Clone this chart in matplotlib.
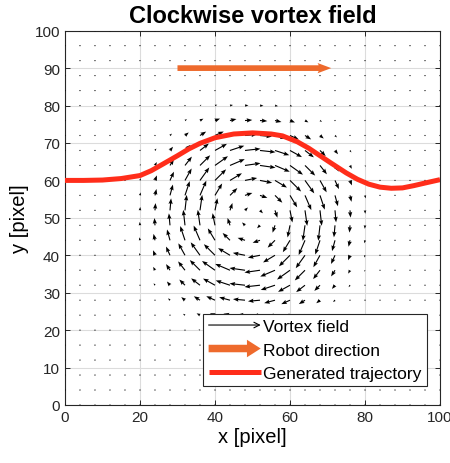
import numpy as np
import matplotlib
matplotlib.use("Agg")
import matplotlib.pyplot as plt
from matplotlib.patches import FancyArrowPatch
from matplotlib.legend_handler import HandlerBase

plt.rcParams["font.family"] = ["Liberation Sans", "DejaVu Sans"]

# sample grid of the vortex field (pixel units)
grid_x = np.arange(0, 101, 4)
grid_y = np.arange(0, 101, 4)
vortex_center = (50.0, 50.0)
ring_radius = 16.0  # radius where rotation is strongest
ring_width = 8.0  # spread of the rotating ring
vortex_peak = 4.3  # longest arrow in pixels

# generated trajectory
traj_x = [0, 5, 10, 15, 20, 23, 26, 30, 33, 36, 40, 45, 50, 55, 58, 62, 65,
          68, 71, 75, 78, 81, 84, 87, 90, 93, 96, 100]
traj_y = [60.0, 60.0, 60.1, 60.5, 61.3, 62.6, 64.3, 66.6, 68.4, 69.9, 71.4,
          72.4, 72.7, 72.4, 71.9, 70.3, 68.6, 66.6, 64.6, 62.0, 60.3, 59.0,
          58.2, 57.9, 58.0, 58.6, 59.3, 60.2]

# robot heading arrow
robot_start = (30, 90)
robot_vec = (41, 0)

red = "#FF2D1A"
orange = "#EE6A2C"


class ArrowHandler(HandlerBase):
    def __init__(self, style, lw, color, scale):
        super().__init__()
        self.style = style
        self.lw = lw
        self.color = color
        self.scale = scale

    def create_artists(self, legend, orig_handle, xdescent, ydescent,
                       width, height, fontsize, trans):
        y = height / 2 - ydescent
        a = FancyArrowPatch((-xdescent, y), (-xdescent + width, y),
                            arrowstyle=self.style, mutation_scale=self.scale,
                            lw=self.lw, color=self.color, transform=trans,
                            shrinkA=0, shrinkB=0)
        return [a]


X, Y = np.meshgrid(grid_x, grid_y)
dx = X - vortex_center[0]
dy = Y - vortex_center[1]
r = np.hypot(dx, dy)
mag = vortex_peak * np.exp(-(r - ring_radius) ** 2 / (2 * ring_width ** 2))
mag[r == 0] = 0
rr = np.where(r == 0, 1, r)
U = mag * dy / rr
V = -mag * dx / rr

fig = plt.figure(figsize=(4.5, 4.64), dpi=100)
ax = fig.add_axes([0.1444, 0.125, 0.8334, 0.8067])

qv = ax.quiver(X, Y, U, V, angles="xy", scale_units="xy", scale=1,
               color="black", width=0.003, headwidth=3.8, headlength=5.0,
               headaxislength=4.4, minlength=1.2, zorder=3)
rb = ax.quiver(robot_start[0], robot_start[1], robot_vec[0], robot_vec[1],
               angles="xy", scale_units="xy", scale=1, color=orange,
               width=0.0152, headwidth=1.8, headlength=2.4,
               headaxislength=2.2, zorder=4)
tr, = ax.plot(traj_x, traj_y, color=red, lw=3.6, solid_capstyle="butt",
              zorder=5)

ax.set_xlim(0, 100)
ax.set_ylim(0, 100)
ax.set_xticks(np.arange(0, 101, 20))
ax.set_yticks(np.arange(0, 101, 10))
ax.tick_params(direction="in", length=3.5, width=0.7, top=True, right=True,
               labelsize=11, colors="#262626")
for sp in ax.spines.values():
    sp.set_color("#262626")
    sp.set_linewidth(0.8)
ax.grid(True, color="#DCDCDC", lw=0.8)
ax.set_axisbelow(True)

ax.set_title("Clockwise vortex field", fontsize=17, fontweight="bold",
             pad=6)
ax.set_xlabel("x [pixel]", fontsize=14.5, labelpad=2)
ax.set_ylabel("y [pixel]", fontsize=14.5, labelpad=4)

leg = ax.legend([qv, rb, tr],
                ["Vortex field", "Robot direction", "Generated trajectory"],
                handler_map={
                    qv: ArrowHandler("->", 0.8, "black", 10),
                    rb: ArrowHandler("simple,head_width=1.4,head_length=1.1,tail_width=0.6",
                                     0, orange, 9),
                },
                loc="lower right", bbox_to_anchor=(0.965, 0.05),
                borderaxespad=0, fontsize=12.5, fancybox=False,
                framealpha=1, edgecolor="#262626", handlelength=3.0,
                handletextpad=0.15, labelspacing=0.48, borderpad=0.3)
leg.get_frame().set_linewidth(0.8)
leg.set_zorder(10)

fig.savefig("out.png", dpi=100)
